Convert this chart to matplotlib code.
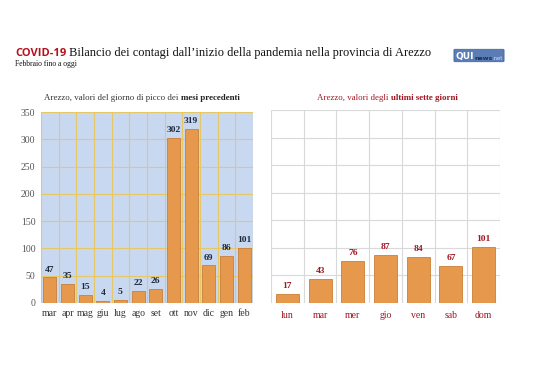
import matplotlib
matplotlib.use("Agg")
import matplotlib.pyplot as plt
from matplotlib.patches import FancyBboxPatch
from matplotlib.text import Annotation

# dati
mesi = ['mar', 'apr', 'mag', 'giu', 'lug', 'ago', 'set', 'ott', 'nov', 'dic', 'gen', 'feb']
picchi_mesi = [47, 35, 15, 4, 5, 22, 26, 302, 319, 69, 86, 101]

giorni = ['lun', 'mar', 'mer', 'gio', 'ven', 'sab', 'dom']
valori_giorni = [17, 43, 76, 87, 84, 67, 101]

y_ticks = [0, 50, 100, 150, 200, 250, 300, 350]

SERIF = 'Liberation Serif'
ARANCIO = '#E6994C'
BORDO = '#C97F35'
ROSSO = '#A01620'
W, H = 538, 380

fig = plt.figure(figsize=(W / 100, H / 100), dpi=100)

def box(x0, y0, x1, y1):
    # coordinate in pixel (origine in alto a sinistra)
    return [x0 / W, 1 - y1 / H, (x1 - x0) / W, (y1 - y0) / H]

def accoda(prev, testo, **kw):
    # scrive un testo subito dopo il precedente, sulla stessa linea
    a = Annotation(testo, xy=(1, 0), xycoords=prev, va='bottom', ha='left',
                   annotation_clip=False, **kw)
    fig.add_artist(a)
    return a

# --- grafico di sinistra: mesi precedenti ---
ax1 = fig.add_axes(box(41, 112, 253, 303))
ax1.set_facecolor('#C9D8F1')
x1 = range(len(mesi))
ax1.bar(x1, picchi_mesi, width=0.74, color=ARANCIO, edgecolor=BORDO, linewidth=0.6, zorder=3)
for i, v in enumerate(picchi_mesi):
    ax1.text(i, v + 7, str(v), ha='center', va='bottom', fontsize=6.8,
             fontweight='bold', color='#1F2A3A', family=SERIF, zorder=4)
ax1.set_xlim(-0.5, len(mesi) - 0.5)
ax1.set_ylim(0, 350)
ax1.set_yticks(y_ticks)
ax1.set_xticks(list(x1))
ax1.set_xticklabels(mesi, family=SERIF, fontsize=7, color='#333333')
ax1.set_yticklabels([str(t) for t in y_ticks], family=SERIF, fontsize=7, color='#555555')
ax1.set_xticks([i + 0.5 for i in range(-1, len(mesi))], minor=True)
ax1.tick_params(length=0, which='both', pad=4)
ax1.grid(axis='y', color='#E5C766', linewidth=0.8, zorder=0)
ax1.grid(axis='x', which='minor', color='#E5C766', linewidth=0.8, zorder=0)
for s in ax1.spines.values():
    s.set_visible(False)

# --- grafico di destra: ultimi sette giorni ---
ax2 = fig.add_axes(box(271, 110, 500, 303))
x2 = range(len(giorni))
ax2.bar(x2, valori_giorni, width=0.7, color=ARANCIO, edgecolor=BORDO, linewidth=0.6, zorder=3)
for i, v in enumerate(valori_giorni):
    ax2.text(i, v + 7, str(v), ha='center', va='bottom', fontsize=6.8,
             fontweight='bold', color=ROSSO, family=SERIF, zorder=4)
ax2.set_xlim(-0.5, len(giorni) - 0.5)
ax2.set_ylim(0, 350)
ax2.set_yticks(y_ticks)
ax2.set_yticklabels([])
ax2.set_xticks(list(x2))
ax2.set_xticklabels(giorni, family=SERIF, fontsize=7, color=ROSSO)
ax2.set_xticks([i + 0.5 for i in range(-1, len(giorni))], minor=True)
ax2.tick_params(length=0, which='both', pad=6)
ax2.grid(axis='y', color='#D9D9D9', linewidth=0.8, zorder=0)
ax2.grid(axis='x', which='minor', color='#D9D9D9', linewidth=0.8, zorder=0)
for s in ax2.spines.values():
    s.set_visible(False)

# --- titoli ---
t = fig.text(15 / W, 1 - 56 / H, 'COVID-19', fontsize=8, fontweight='bold',
             color='#B5121B', family='Open Sans', va='baseline')
accoda(t, ' Bilancio dei contagi dall\u2019inizio della pandemia nella provincia di Arezzo',
       fontsize=8.9, family=SERIF, color='#111111')
fig.text(15 / W, 1 - 66 / H, 'Febbraio fino a oggi', fontsize=5.5, family=SERIF, color='#111111')

# sottotitoli con parti in grassetto
s1 = fig.text(44 / W, 1 - 100 / H, 'Arezzo, valori del giorno di picco dei ',
              fontsize=6.4, family=SERIF, color='#333333')
accoda(s1, 'mesi precedenti', fontsize=6.4, family=SERIF, fontweight='bold', color='#222222')
s2 = fig.text(317 / W, 1 - 100 / H, 'Arezzo, valori degli ',
              fontsize=6.4, family=SERIF, color=ROSSO)
accoda(s2, 'ultimi sette giorni', fontsize=6.4, family=SERIF, fontweight='bold', color=ROSSO)

# logo QUInews
logo = FancyBboxPatch((455 / W, 1 - 61 / H), 48 / W, 11 / H,
                      boxstyle='round,pad=0.002', transform=fig.transFigure,
                      facecolor='#5A7DB5', edgecolor='#3E5F94', linewidth=0.5, zorder=-1)
fig.patches.append(logo)
q = fig.text(456 / W, 1 - 59 / H, 'QUI', fontsize=6.5, fontweight='bold',
             color='white', family='DejaVu Sans', va='baseline')
n = accoda(q, 'news', fontsize=4.5, fontweight='bold', color='#1E2E4F', family='DejaVu Sans')
accoda(n, '.net', fontsize=3.8, color='#D8E2F2', family='DejaVu Sans')

fig.savefig('out.png', dpi=100)
